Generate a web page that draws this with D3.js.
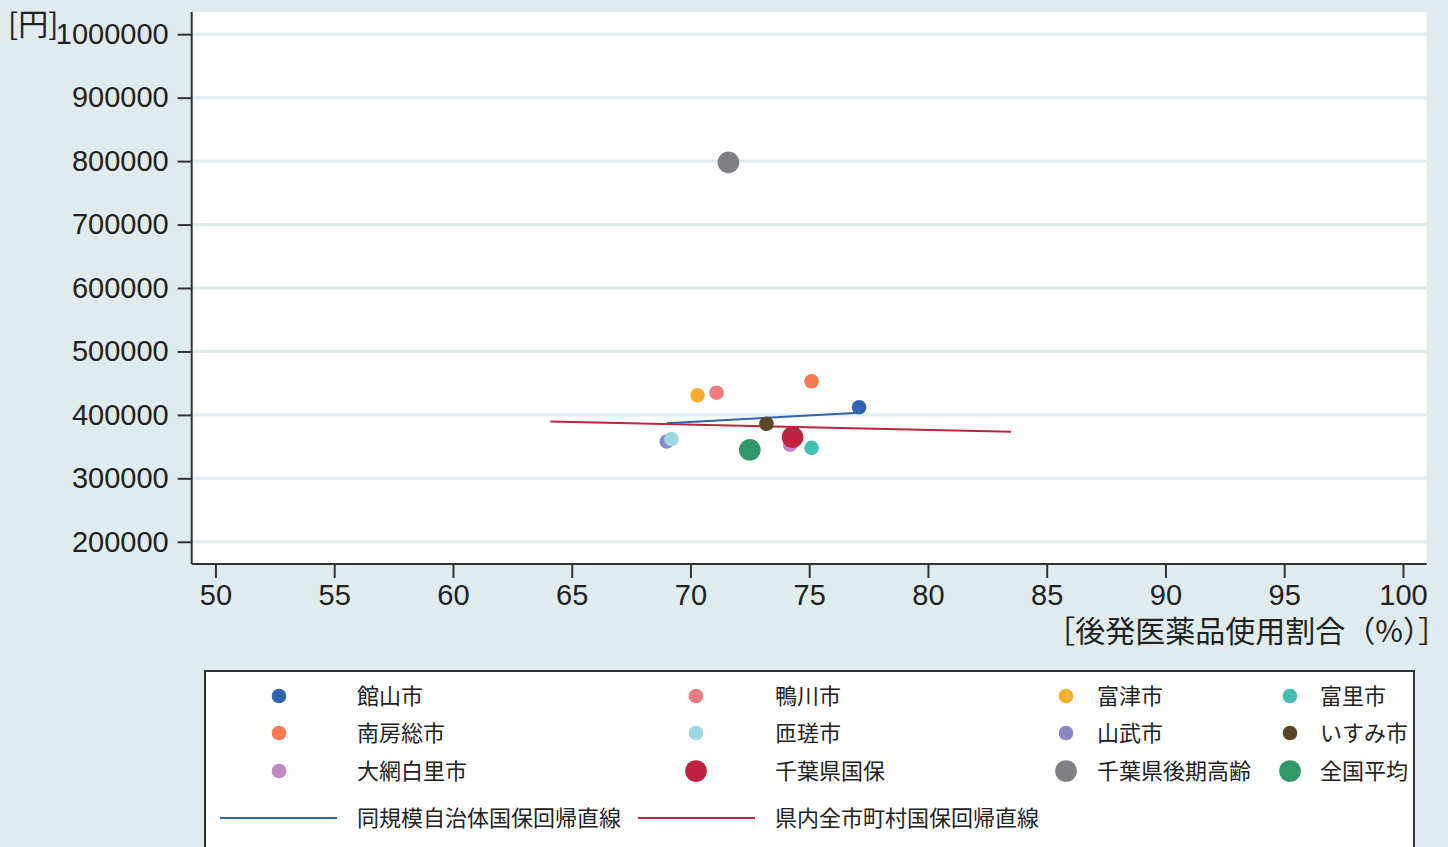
<!DOCTYPE html>
<html><head><meta charset="utf-8">
<script src="https://cdn.jsdelivr.net/npm/d3@7"></script>
<style>
html,body{margin:0;padding:0;background:#e0ebed;}
svg{display:block;}
text{font-family:"Liberation Sans",Arial,sans-serif;fill:#222;}
.jp{font-family:"Noto Sans CJK JP","Noto Sans",sans-serif;}
</style></head>
<body>
<script>
// ---- data ----
const names = ["館山市","鴨川市","富津市","富里市","南房総市","匝瑳市","山武市","いすみ市","大網白里市","千葉県国保","千葉県後期高齢","全国平均"];
const xValues = [77.1, 71.1, 70.3, 75.1, 75.1, 69.2, 69.0, 73.2, 74.2, 74.3, 71.6, 72.5];
const yValues = [412000, 435000, 431000, 348000, 453000, 362000, 358000, 386000, 353000, 365000, 798000, 345000];
const colors = ["#2f65b0","#f07c80","#fbad30","#44bfb1","#f47a52","#a0d5e2","#8b89c5","#5b4727","#c089c1","#c0223f","#7f7f84","#2f9768"];
const bigFlags = [false,false,false,false,false,false,false,false,false,true,true,true];
const lineNames = ["同規模自治体国保回帰直線","県内全市町村国保回帰直線"];
const lineX = [[69.0, 77.1],[64.1, 83.5]];
const lineY = [[387000, 403300],[389600, 373300]];
const lineColors = ["#2f65b0","#c0223f"];
const xTicks = [50,55,60,65,70,75,80,85,90,95,100];
const yTicks = [200000,300000,400000,500000,600000,700000,800000,900000,1000000];
const xTitle = "［後発医薬品使用割合（%）］";
const yTitle = "[円]";

// ---- drawing ----
const W = 1448, H = 847;
const svg = d3.select("body").append("svg").attr("width", W).attr("height", H);
svg.append("rect").attr("width", W).attr("height", H).attr("fill", "#e0ebed");

const L = 191.7, R = 1426.7, T = 12, B = 564;
const x = d3.scaleLinear().domain([49, 101]).range([L, R]);
const y = d3.scaleLinear().domain([165000, 1035000]).range([B, T]);

svg.append("rect").attr("x", L).attr("y", T).attr("width", R - L).attr("height", B - T).attr("fill", "#fff");

// gridlines
svg.append("g").selectAll("line").data(yTicks).join("line")
  .attr("x1", L).attr("x2", R).attr("y1", d => y(d)).attr("y2", d => y(d))
  .attr("stroke", "#e0ebed").attr("stroke-width", 3);

// axes
const xAxis = d3.axisBottom(x).tickValues(xTicks).tickSize(14).tickPadding(6).tickFormat(d3.format("d"));
const gx = svg.append("g").attr("transform", `translate(0,${B})`).call(xAxis);
gx.select(".domain").attr("stroke", "#333").attr("stroke-width", 2).attr("d", `M${L},0H${R}`);
gx.selectAll(".tick line").attr("stroke", "#333").attr("stroke-width", 2);
gx.selectAll(".tick text").attr("font-size", 29).attr("fill", "#222").style("font-family", "Liberation Sans, Arial, sans-serif");

const yAxis = d3.axisLeft(y).tickValues(yTicks).tickSize(14).tickPadding(9).tickFormat(d3.format("d"));
const gy = svg.append("g").attr("transform", `translate(${L},0)`).call(yAxis);
gy.select(".domain").attr("stroke", "#333").attr("stroke-width", 2).attr("d", `M0,${T}V${B}`);
gy.selectAll(".tick line").attr("stroke", "#333").attr("stroke-width", 2);
gy.selectAll(".tick text").attr("font-size", 29).attr("fill", "#222").style("font-family", "Liberation Sans, Arial, sans-serif");

// titles
svg.append("text").attr("class", "jp").attr("x", 8).attr("y", 35).attr("font-size", 30).text(yTitle);
svg.append("text").attr("class", "jp").attr("x", 1448).attr("y", 642).attr("text-anchor", "end").attr("font-size", 30).text(xTitle);

// regression lines
lineX.forEach((lx, i) => {
  svg.append("line")
    .attr("x1", x(lx[0])).attr("x2", x(lx[1]))
    .attr("y1", y(lineY[i][0])).attr("y2", y(lineY[i][1]))
    .attr("stroke", lineColors[i]).attr("stroke-width", 2);
});

// points (draw in order so overlaps look right)
const pts = names.map((n, i) => ({n, x: xValues[i], y: yValues[i], c: colors[i], big: bigFlags[i]}));
const order = [6,5,4,0,1,2,7,8,3,9,10,11];
svg.append("g").selectAll("circle").data(order.map(i => pts[i])).join("circle")
  .attr("cx", d => x(d.x)).attr("cy", d => y(d.y))
  .attr("r", d => d.big ? 10.8 : 7.3).attr("fill", d => d.c);

// legend
svg.append("rect").attr("x", 205).attr("y", 671).attr("width", 1209).attr("height", 200)
  .attr("fill", "#fff").attr("stroke", "#333").attr("stroke-width", 2);
const colMarker = [279, 696, 1066, 1290];
const colText = [357, 775, 1097, 1320];
const rowY = [696, 733, 771];
const lg = svg.append("g");
pts.forEach((p, i) => {
  const r = Math.floor(i / 4), c = i % 4;
  lg.append("circle").attr("cx", colMarker[c]).attr("cy", rowY[r]).attr("r", p.big ? 10.8 : 7.3).attr("fill", p.c);
  lg.append("text").attr("class", "jp").attr("x", colText[c]).attr("y", rowY[r]).attr("dy", "0.36em")
    .attr("font-size", 22).text(p.n);
});
const lineLegX = [[220, 337, 357], [638, 755, 775]];
lineNames.forEach((n, i) => {
  lg.append("line").attr("x1", lineLegX[i][0]).attr("x2", lineLegX[i][1]).attr("y1", 818).attr("y2", 818)
    .attr("stroke", lineColors[i]).attr("stroke-width", 2);
  lg.append("text").attr("class", "jp").attr("x", lineLegX[i][2]).attr("y", 818).attr("dy", "0.36em")
    .attr("font-size", 22).text(n);
});
</script>
</body></html>
